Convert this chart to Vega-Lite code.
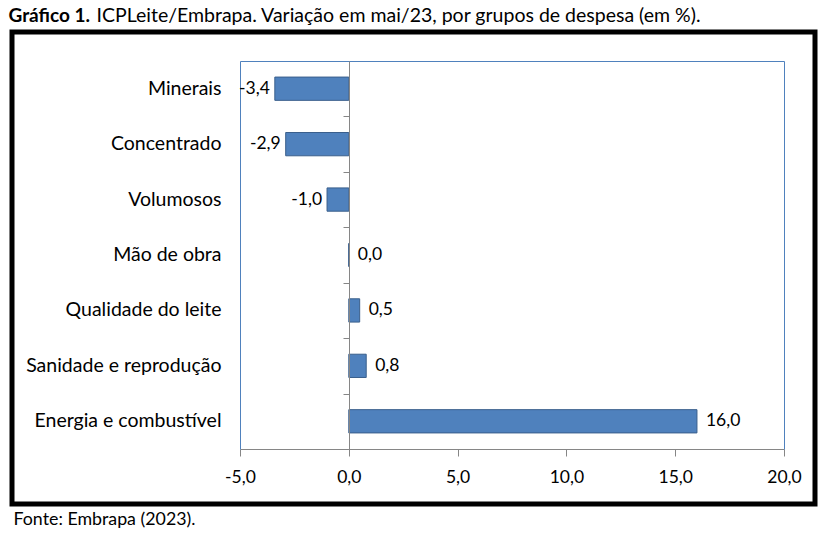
{
  "$schema": "https://vega.github.io/schema/vega-lite/v6.json",
  "autosize": {"type": "none"},
  "padding": {"left": 12, "top": 32, "right": 10, "bottom": 30},
  "width": 803,
  "height": 472,
  "background": "white",
  "view": {"stroke": "#000000", "strokeWidth": 5, "fill": "white"},
  "config": {
    "locale": {"number": {"decimal": ",", "thousands": ".", "grouping": [3], "currency": ["R$", ""], "minus": "-"}},
    "font": "Lato"
  },
  "data": {"values": [
    {"grupo": "Minerais", "valor": -3.4},
    {"grupo": "Concentrado", "valor": -2.9},
    {"grupo": "Volumosos", "valor": -1.0},
    {"grupo": "Mão de obra", "valor": 0.0},
    {"grupo": "Qualidade do leite", "valor": 0.5},
    {"grupo": "Sanidade e reprodução", "valor": 0.8},
    {"grupo": "Energia e combustível", "valor": 16.0}
  ]},
  "layer": [
    {
      "mark": {"type": "bar", "color": "#4F81BD", "stroke": "#3A5F8C", "strokeWidth": 1},
      "encoding": {
        "y": {"field": "grupo", "type": "nominal", "sort": null,
          "scale": {"domain": ["Minerais", "Concentrado", "Volumosos", "Mão de obra", "Qualidade do leite", "Sanidade e reprodução", "Energia e combustível"],
            "range": [29, 417], "paddingInner": 0.58, "paddingOuter": 0.29},
          "axis": {"orient": "left", "offset": -228, "title": null, "domain": true, "domainColor": "#4F81BD", "domainWidth": 1,
            "ticks": false, "labelPadding": 19, "labelFont": "Lato", "labelFontSize": 19.5, "labelColor": "#000000", "labelLimit": 300, "grid": false}},
        "x": {"field": "valor", "type": "quantitative",
          "scale": {"domain": [-5, 20], "range": [228, 772], "nice": false, "zero": false},
          "axis": {"orient": "bottom", "offset": -55, "values": [-5, 0, 5, 10, 15, 20], "format": ".1f", "grid": false,
            "domainColor": "#868686", "domainWidth": 1, "tickColor": "#868686", "tickSize": 7, "labelPadding": 12, "labelFlush": false,
            "labelFont": "Lato", "labelFontSize": 17.5, "labelColor": "#000000",
            "title": "Fonte: Embrapa (2023).", "titleX": 1, "titleY": 75, "titleAlign": "left", "titleAnchor": "start", "titleBaseline": "alphabetic",
            "titleFont": "Lato", "titleFontSize": 17.8, "titleFontWeight": "normal", "titleColor": "#000000"}}
      }
    },
    {
      "transform": [{"filter": "datum.valor < 0"}],
      "mark": {"type": "text", "align": "right", "baseline": "middle", "dx": -5, "font": "Lato", "fontSize": 17.5, "color": "#000000"},
      "encoding": {
        "y": {"field": "grupo", "type": "nominal", "sort": null,
          "axis": {"orient": "left", "offset": -337, "title": null, "domain": true, "domainColor": "#868686", "domainWidth": 1, "zindex": 2,
            "ticks": true, "tickColor": "#868686", "tickSize": 6, "tickOffset": 27.7, "labels": false, "grid": false}},
        "x": {"field": "valor", "type": "quantitative",
          "axis": {"orient": "top", "offset": -29, "domain": true, "domainColor": "#4F81BD", "domainWidth": 1, "ticks": false, "labels": false, "grid": false,
            "title": "ICPLeite/Embrapa. Variação em mai/23, por grupos de despesa (em %).", "titleX": 84, "titleY": -40, "titleAlign": "left", "titleAnchor": "start",
            "titleBaseline": "alphabetic", "titleFont": "Lato", "titleFontSize": 19.5, "titleFontWeight": "normal", "titleColor": "#000000"}},
        "text": {"field": "valor", "type": "quantitative", "format": ".1f"}
      }
    },
    {
      "transform": [{"filter": "datum.valor >= 0"}],
      "mark": {"type": "text", "align": "left", "baseline": "middle", "dx": 9, "font": "Lato", "fontSize": 17.5, "color": "#000000"},
      "encoding": {
        "y": {"field": "grupo", "type": "nominal", "sort": null,
          "axis": {"orient": "right", "offset": -31, "domain": true, "domainColor": "#4F81BD", "domainWidth": 1, "ticks": false, "labels": false, "grid": false,
            "title": "Gráfico 1.", "titleAngle": 0, "titleX": -776, "titleY": -11, "titleAlign": "left", "titleAnchor": "start", "titleBaseline": "alphabetic",
            "titleFont": "Lato", "titleFontSize": 19, "titleFontWeight": "bold", "titleColor": "#000000"}},
        "x": {"field": "valor", "type": "quantitative", "axis": null},
        "text": {"field": "valor", "type": "quantitative", "format": ".1f"}
      }
    }
  ],
  "resolve": {"axis": {"x": "independent", "y": "independent"}}
}
